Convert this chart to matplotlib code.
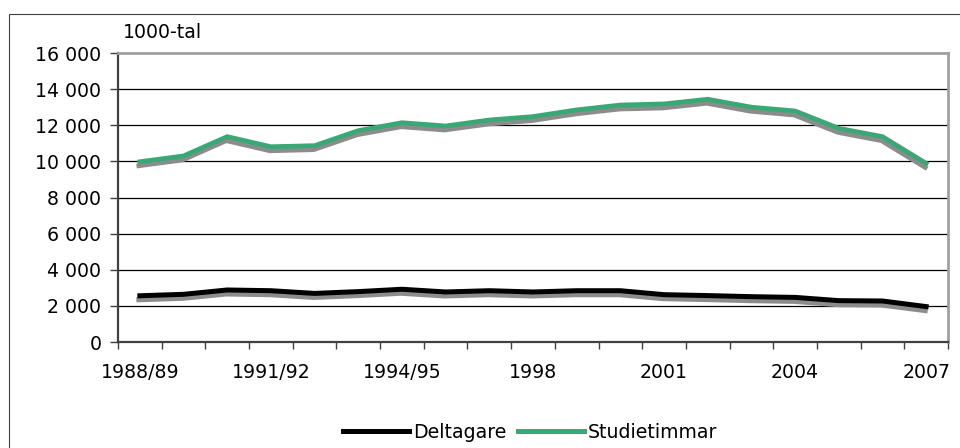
import numpy as np
import matplotlib.pyplot as plt
import matplotlib.patheffects as pe
from matplotlib.patches import Rectangle
from matplotlib.lines import Line2D
from matplotlib.ticker import FuncFormatter

years = ['1988/89', '1989/90', '1990/91', '1991/92', '1992/93', '1993/94', '1994/95',
         '1995/96', '1996/97', '1998', '1999', '2000', '2001', '2002', '2003', '2004',
         '2005', '2006', '2007']
deltagare = [2560, 2640, 2880, 2840, 2690, 2790, 2920, 2770, 2840, 2770, 2840, 2840,
             2620, 2570, 2510, 2470, 2290, 2270, 1960]
studietimmar = [9980, 10300, 11370, 10810, 10870, 11700, 12140, 11960, 12290, 12480,
                12850, 13120, 13180, 13440, 13000, 12790, 11830, 11370, 9890]
shown_labels = [0, 3, 6, 9, 12, 15, 18]

plt.rcParams['font.family'] = 'DejaVu Sans'
plt.rcParams['font.size'] = 13.6

fig = plt.figure(figsize=(9.6, 4.48), dpi=100)
ax = fig.add_axes([118/960, 1 - 342/448, (948 - 118)/960, (342 - 53)/448])

x = np.arange(len(years))
shadow = [pe.SimpleLineShadow(offset=(-0.7, -2.9), shadow_color='#8c8c8c', alpha=1), pe.Normal()]
ax.plot(x, deltagare, color='black', lw=3.6, path_effects=shadow,
        solid_joinstyle='miter', zorder=3)
ax.plot(x, studietimmar, color='#3aa876', lw=3.4, path_effects=shadow,
        solid_joinstyle='miter', zorder=3)

ax.set_ylim(0, 16000)
ax.set_xlim(-0.5, len(years) - 0.5)
ax.set_yticks(np.arange(0, 16001, 2000))
ax.yaxis.set_major_formatter(FuncFormatter(lambda v, p: f"{v:,.0f}".replace(',', ' ')))
for yv in range(2000, 16000, 2000):
    ax.axhline(yv, color='black', lw=0.9, zorder=1)

# category boundaries as ticks, labels at every third category
ax.set_xticks(np.arange(-0.5, len(years), 1.0))
ax.set_xticklabels([])
ax.set_xticks(shown_labels, minor=True)
ax.set_xticklabels([years[i] for i in shown_labels], minor=True)
ax.tick_params(axis='x', which='major', length=5, width=1, color='#404040', direction='out')
ax.tick_params(axis='x', which='minor', length=0, pad=15)
ax.tick_params(axis='y', length=6, width=1, color='#404040', pad=6)

for s in ['left', 'bottom']:
    ax.spines[s].set_color('#404040')
    ax.spines[s].set_linewidth(1.6)
for s in ['top', 'right']:
    ax.spines[s].set_color('#a0a0a0')
    ax.spines[s].set_linewidth(2)

fig.text(123/960, 1 - 33/448, '1000-tal', ha='left', va='center')

handles = [Line2D([], [], color='black', lw=3.6), Line2D([], [], color='#3aa876', lw=3.6)]
fig.legend(handles, ['Deltagare', 'Studietimmar'], loc='center',
           bbox_to_anchor=(530/960, 1 - 432/448), ncol=2, frameon=False,
           handlelength=3.5, handletextpad=0.2, columnspacing=0.6)

fig.patches.append(Rectangle((9/960, -0.2), 1.2, 1.2 - 14/448, transform=fig.transFigure,
                             fill=False, edgecolor='#404040', lw=0.8, clip_on=False))

fig.savefig('out.png', dpi=100)
